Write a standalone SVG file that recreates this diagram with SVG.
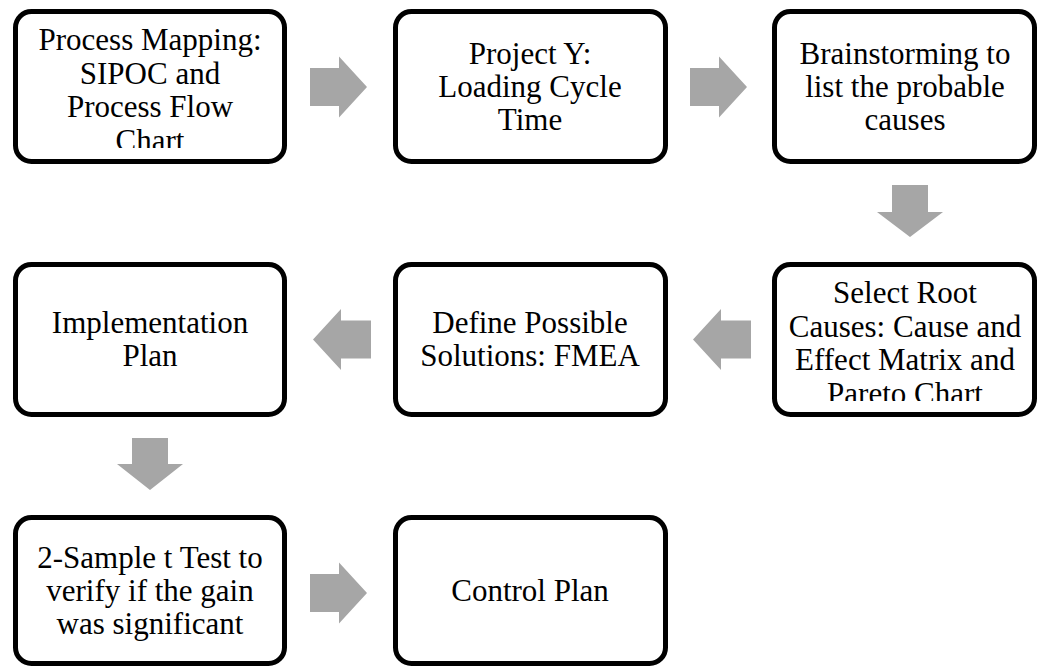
<svg xmlns="http://www.w3.org/2000/svg" width="1037" height="666" viewBox="0 0 1037 666">
<style>
.box{fill:#ffffff;stroke:#000000;stroke-width:5}
.t{font-family:"Liberation Serif","Times New Roman",serif;font-size:31px;fill:#000000;text-anchor:middle}
.arr{fill:#a6a6a6;stroke:none}
</style>
<defs>
<clipPath id="c1"><rect x="18" y="14" width="264" height="134"/></clipPath>
<clipPath id="c6"><rect x="777" y="267" width="255" height="134"/></clipPath>
</defs>
<rect width="1037" height="666" fill="#ffffff"/>
<g id="connectors">
<polygon class="arr" points="310,68 339,68 339,56.5 367,87 339,117.5 339,106 310,106"/>
<polygon class="arr" points="690,68 719,68 719,56.5 747,87 719,117.5 719,106 690,106"/>
<polygon class="arr" points="892,185 928,185 928,212 943,212 910,237 877,212 892,212"/>
<polygon class="arr" points="751,320.5 721,320.5 721,309 693,339.5 721,370 721,358.5 751,358.5"/>
<polygon class="arr" points="371,320.5 341,320.5 341,309 313,339.5 341,370 341,358.5 371,358.5"/>
<polygon class="arr" points="132,438 168,438 168,464 183,464 150,490 117,464 132,464"/>
<polygon class="arr" points="310,574 339,574 339,562.5 367,593 339,623.5 339,612 310,612"/>
</g>
<g id="node1">
<rect class="box" x="15.5" y="11.5" width="269" height="150" rx="16"/>
<g clip-path="url(#c1)">
<text class="t" x="150" y="50">Process Mapping:</text>
<text class="t" x="150" y="83.5">SIPOC and</text>
<text class="t" x="150" y="117">Process Flow</text>
<text class="t" x="150" y="150.5">Chart</text>
</g>
</g>
<g id="node2">
<rect class="box" x="395.5" y="11.5" width="270" height="150" rx="16"/>
<text class="t" x="530" y="64">Project Y:</text>
<text class="t" x="530" y="97">Loading Cycle</text>
<text class="t" x="530" y="130">Time</text>
</g>
<g id="node3">
<rect class="box" x="774.5" y="11.5" width="260" height="150" rx="16"/>
<text class="t" x="905" y="64">Brainstorming to</text>
<text class="t" x="905" y="97">list the probable</text>
<text class="t" x="905" y="130">causes</text>
</g>
<g id="node4">
<rect class="box" x="774.5" y="264.5" width="260" height="150" rx="16"/>
<g clip-path="url(#c6)">
<text class="t" x="905" y="303">Select Root</text>
<text class="t" x="905" y="336.5">Causes: Cause and</text>
<text class="t" x="905" y="370">Effect Matrix and</text>
<text class="t" x="905" y="403.5">Pareto Chart</text>
</g>
</g>
<g id="node5">
<rect class="box" x="395.5" y="264.5" width="270" height="150" rx="16"/>
<text class="t" x="530" y="333">Define Possible</text>
<text class="t" x="530" y="366">Solutions: FMEA</text>
</g>
<g id="node6">
<rect class="box" x="15.5" y="264.5" width="269" height="150" rx="16"/>
<text class="t" x="150" y="333">Implementation</text>
<text class="t" x="150" y="366">Plan</text>
</g>
<g id="node7">
<rect class="box" x="15.5" y="517.5" width="269" height="146" rx="16"/>
<text class="t" x="150" y="568">2-Sample t Test to</text>
<text class="t" x="150" y="601">verify if the gain</text>
<text class="t" x="150" y="634">was significant</text>
</g>
<g id="node8">
<rect class="box" x="395.5" y="517.5" width="270" height="146" rx="16"/>
<text class="t" x="530" y="601">Control Plan</text>
</g>
</svg>
